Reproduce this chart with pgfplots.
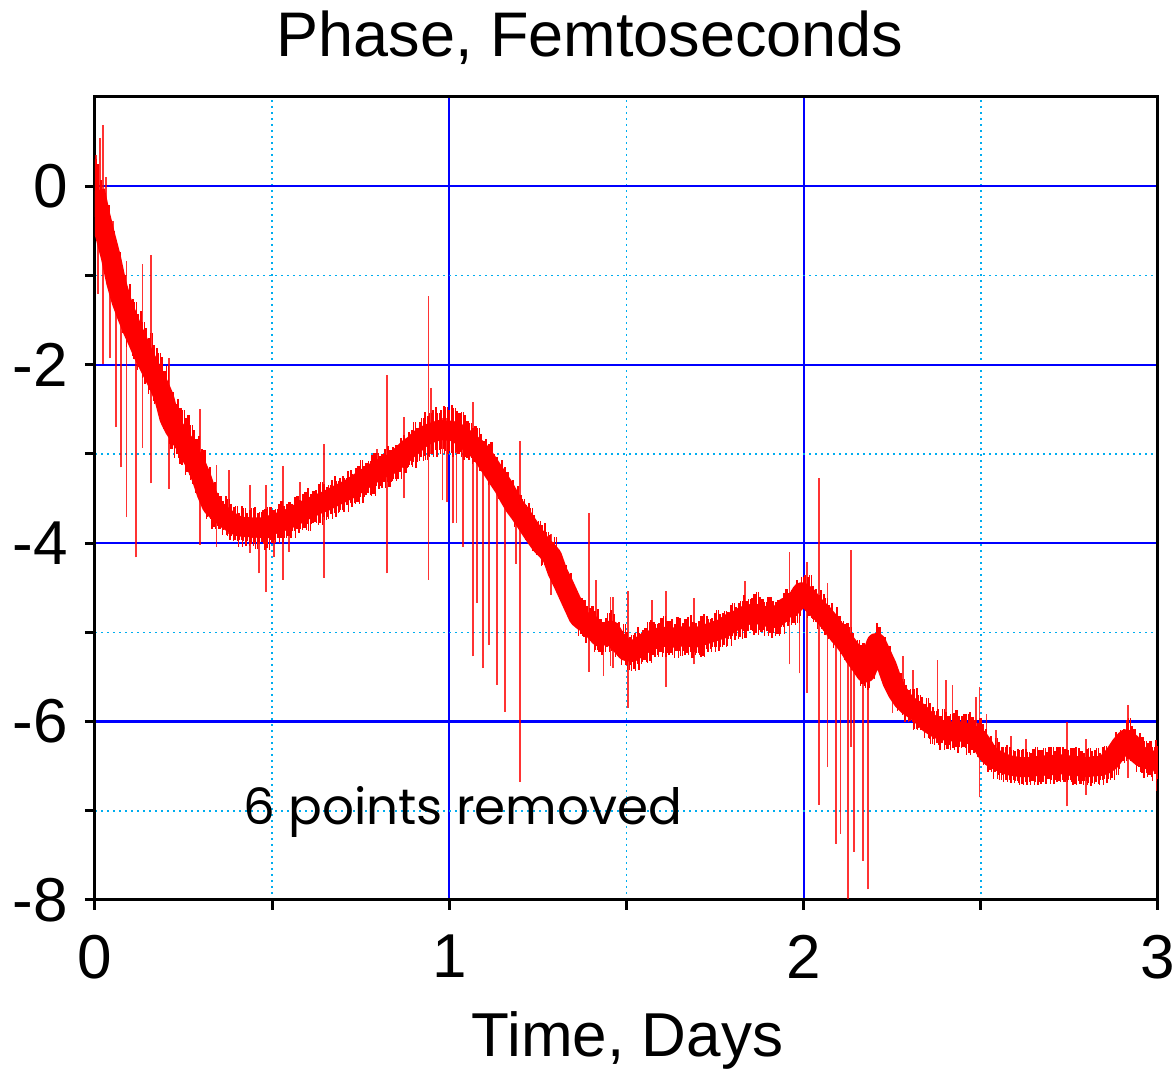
\documentclass[border=0pt]{standalone}
\usepackage{fontspec}
\setmainfont{Liberation Sans}
\newfontfamily\poppins{Poppins}
\usepackage{pgfplots}
\usepackage{pgfplotstable}
\pgfplotsset{compat=1.18}

\pgfplotstableread{
x m ep em
0.000 -0.05 0.35 0.30
0.015 -0.33 0.40 0.28
0.030 -0.57 0.32 0.36
0.045 -0.80 0.38 0.30
0.060 -1.08 0.30 0.34
0.075 -1.29 0.36 0.29
0.090 -1.45 0.28 0.35
0.105 -1.60 0.34 0.30
0.120 -1.73 0.30 0.33
0.135 -1.87 0.35 0.28
0.150 -1.99 0.29 0.34
0.165 -2.11 0.33 0.30
0.180 -2.23 0.36 0.32
0.195 -2.37 0.30 0.35
0.210 -2.60 0.34 0.29
0.225 -2.72 0.28 0.33
0.240 -2.81 0.32 0.30
0.255 -2.90 0.30 0.34
0.270 -3.01 0.33 0.28
0.285 -3.12 0.29 0.32
0.300 -3.26 0.31 0.30
0.315 -3.44 0.27 0.29
0.330 -3.58 0.24 0.26
0.345 -3.64 0.20 0.17
0.360 -3.69 0.16 0.22
0.375 -3.74 0.23 0.18
0.390 -3.78 0.18 0.20
0.405 -3.81 0.15 0.23
0.420 -3.82 0.21 0.16
0.435 -3.82 0.19 0.21
0.450 -3.83 0.24 0.17
0.465 -3.82 0.17 0.19
0.480 -3.84 0.22 0.24
0.495 -3.80 0.20 0.17
0.510 -3.78 0.16 0.22
0.525 -3.76 0.23 0.18
0.540 -3.74 0.18 0.20
0.555 -3.71 0.15 0.23
0.570 -3.68 0.21 0.16
0.585 -3.64 0.19 0.21
0.600 -3.62 0.24 0.17
0.615 -3.59 0.17 0.19
0.630 -3.56 0.22 0.24
0.645 -3.54 0.20 0.17
0.660 -3.51 0.16 0.22
0.675 -3.48 0.23 0.18
0.690 -3.45 0.18 0.20
0.705 -3.42 0.15 0.23
0.720 -3.39 0.21 0.16
0.735 -3.35 0.19 0.21
0.750 -3.31 0.24 0.17
0.765 -3.27 0.17 0.19
0.780 -3.23 0.22 0.24
0.795 -3.19 0.20 0.17
0.810 -3.16 0.16 0.22
0.825 -3.14 0.23 0.18
0.840 -3.10 0.18 0.20
0.855 -3.05 0.15 0.23
0.870 -3.00 0.21 0.16
0.885 -2.94 0.19 0.21
0.900 -2.90 0.26 0.19
0.915 -2.84 0.20 0.24
0.930 -2.80 0.27 0.22
0.945 -2.77 0.23 0.26
0.960 -2.75 0.28 0.21
0.975 -2.73 0.22 0.27
0.990 -2.74 0.26 0.23
1.005 -2.74 0.29 0.25
1.020 -2.76 0.24 0.22
1.035 -2.80 0.27 0.24
1.050 -2.85 0.22 0.20
1.065 -2.90 0.19 0.21
1.080 -2.95 0.24 0.17
1.095 -3.02 0.17 0.19
1.110 -3.11 0.22 0.24
1.125 -3.20 0.20 0.17
1.140 -3.29 0.16 0.22
1.155 -3.38 0.23 0.18
1.170 -3.49 0.18 0.20
1.185 -3.59 0.15 0.23
1.200 -3.67 0.21 0.16
1.215 -3.76 0.19 0.21
1.230 -3.85 0.24 0.17
1.245 -3.94 0.17 0.19
1.260 -4.02 0.22 0.24
1.275 -4.08 0.20 0.17
1.290 -4.15 0.16 0.22
1.305 -4.32 0.23 0.18
1.320 -4.44 0.18 0.20
1.335 -4.57 0.15 0.23
1.350 -4.70 0.21 0.16
1.365 -4.83 0.19 0.21
1.380 -4.88 0.24 0.17
1.395 -4.90 0.17 0.19
1.410 -4.98 0.22 0.24
1.425 -5.05 0.20 0.17
1.440 -5.00 0.16 0.22
1.455 -4.98 0.23 0.18
1.470 -5.08 0.18 0.20
1.485 -5.14 0.15 0.23
1.500 -5.21 0.21 0.16
1.515 -5.22 0.19 0.21
1.530 -5.18 0.24 0.17
1.545 -5.14 0.17 0.19
1.560 -5.10 0.22 0.24
1.575 -5.08 0.20 0.17
1.590 -5.06 0.16 0.22
1.605 -5.05 0.23 0.18
1.620 -5.05 0.18 0.20
1.635 -5.06 0.15 0.23
1.650 -5.05 0.21 0.16
1.665 -5.04 0.19 0.21
1.680 -5.05 0.24 0.17
1.695 -5.06 0.17 0.19
1.710 -5.04 0.22 0.24
1.725 -5.02 0.20 0.17
1.740 -5.00 0.16 0.22
1.755 -4.98 0.23 0.18
1.770 -4.96 0.18 0.20
1.785 -4.92 0.15 0.23
1.800 -4.88 0.21 0.16
1.815 -4.86 0.19 0.21
1.830 -4.82 0.24 0.17
1.845 -4.80 0.17 0.19
1.860 -4.79 0.22 0.24
1.875 -4.80 0.20 0.17
1.890 -4.82 0.16 0.22
1.905 -4.83 0.23 0.18
1.920 -4.84 0.18 0.20
1.935 -4.79 0.15 0.23
1.950 -4.72 0.21 0.16
1.965 -4.71 0.19 0.21
1.980 -4.65 0.24 0.17
1.995 -4.55 0.17 0.19
2.010 -4.60 0.22 0.24
2.025 -4.68 0.20 0.17
2.040 -4.74 0.16 0.22
2.055 -4.80 0.23 0.18
2.070 -4.87 0.18 0.20
2.085 -4.95 0.15 0.23
2.100 -5.03 0.21 0.16
2.115 -5.10 0.19 0.21
2.130 -5.18 0.24 0.17
2.145 -5.28 0.17 0.19
2.160 -5.36 0.22 0.24
2.175 -5.45 0.20 0.17
2.190 -5.30 0.16 0.22
2.205 -5.12 0.23 0.18
2.220 -5.25 0.18 0.20
2.235 -5.38 0.15 0.23
2.250 -5.55 0.21 0.16
2.265 -5.67 0.19 0.21
2.280 -5.76 0.24 0.17
2.295 -5.82 0.17 0.19
2.310 -5.86 0.22 0.24
2.325 -5.90 0.20 0.17
2.340 -5.96 0.16 0.22
2.355 -6.02 0.23 0.18
2.370 -6.06 0.18 0.20
2.385 -6.09 0.15 0.23
2.400 -6.10 0.21 0.16
2.415 -6.11 0.19 0.21
2.430 -6.11 0.24 0.17
2.445 -6.11 0.17 0.19
2.460 -6.13 0.22 0.24
2.475 -6.15 0.20 0.17
2.490 -6.18 0.16 0.22
2.505 -6.26 0.23 0.18
2.520 -6.36 0.18 0.20
2.535 -6.41 0.15 0.23
2.550 -6.44 0.21 0.16
2.565 -6.47 0.19 0.21
2.580 -6.49 0.20 0.17
2.595 -6.50 0.17 0.19
2.610 -6.51 0.19 0.20
2.625 -6.51 0.20 0.17
2.640 -6.51 0.16 0.20
2.655 -6.50 0.21 0.18
2.670 -6.50 0.18 0.20
2.685 -6.49 0.15 0.21
2.700 -6.49 0.21 0.16
2.715 -6.48 0.19 0.20
2.730 -6.48 0.20 0.17
2.745 -6.49 0.17 0.19
2.760 -6.50 0.20 0.21
2.775 -6.50 0.20 0.17
2.790 -6.51 0.16 0.20
2.805 -6.51 0.21 0.18
2.820 -6.50 0.18 0.20
2.835 -6.50 0.15 0.21
2.850 -6.48 0.21 0.16
2.865 -6.44 0.19 0.21
2.880 -6.36 0.24 0.17
2.895 -6.27 0.17 0.19
2.910 -6.20 0.22 0.24
2.925 -6.25 0.20 0.17
2.940 -6.35 0.16 0.22
2.955 -6.40 0.23 0.18
2.970 -6.42 0.18 0.20
2.985 -6.44 0.15 0.23
3.000 -6.48 0.21 0.16
}\fuzz

\pgfplotstableread{
x lo len
0.003 -0.50 0.85
0.008 -1.21 1.36
0.014 -0.30 0.84
0.022 -1.99 2.68
0.030 -0.90 1.00
0.042 -1.93 1.43
0.050 -1.20 0.81
0.059 -2.70 1.80
0.073 -3.15 2.05
0.089 -3.71 2.87
0.116 -4.16 2.66
0.134 -2.93 2.06
0.158 -3.33 2.56
0.208 -3.39 1.47
0.296 -4.02 1.52
0.343 -4.04 0.91
0.378 -3.90 0.72
0.437 -4.11 0.76
0.463 -4.34 0.64
0.482 -4.55 1.20
0.505 -4.16 0.46
0.531 -4.41 1.27
0.548 -4.10 0.50
0.579 -3.80 0.48
0.646 -4.39 1.50
0.795 -3.30 0.36
0.823 -4.34 2.22
0.872 -3.50 0.91
0.941 -4.41 3.18
0.948 -3.00 0.74
0.981 -3.52 0.92
0.993 -3.54 0.94
1.011 -3.78 1.18
1.020 -3.77 1.17
1.038 -4.04 1.34
1.066 -5.27 2.85
1.077 -4.67 1.87
1.094 -5.40 2.50
1.111 -5.14 2.14
1.135 -5.59 2.39
1.156 -5.89 2.59
1.188 -4.23 0.83
1.200 -6.68 3.83
1.287 -4.58 0.68
1.395 -5.44 1.78
1.414 -5.00 0.59
1.435 -5.49 0.59
1.455 -5.38 0.78
1.462 -5.40 0.80
1.505 -5.85 1.31
1.571 -5.10 0.46
1.611 -5.61 1.07
1.690 -5.36 0.74
1.834 -4.90 0.47
1.960 -5.36 1.26
1.988 -5.46 0.96
2.010 -5.68 1.47
2.044 -6.93 3.66
2.067 -6.51 2.06
2.091 -7.37 2.47
2.104 -7.26 2.26
2.125 -7.99 2.89
2.133 -6.28 2.20
2.142 -7.46 2.26
2.168 -7.56 2.26
2.182 -7.88 2.58
2.251 -5.90 0.50
2.281 -5.80 0.53
2.308 -5.90 0.48
2.378 -6.10 0.79
2.402 -6.10 0.57
2.420 -6.10 0.51
2.486 -6.20 0.48
2.496 -6.85 1.24
2.516 -6.40 0.48
2.543 -6.50 0.41
2.585 -6.50 0.34
2.627 -6.50 0.30
2.744 -6.95 0.94
2.797 -6.82 0.62
2.874 -6.40 0.16
2.916 -6.63 0.82
2.996 -6.78 0.38
}\spikes

\begin{document}
\begin{tikzpicture}
\useasboundingbox (-47.5pt,-85pt) rectangle (540pt,450pt);
\begin{axis}[
  at={(0,0)}, anchor=south west, scale only axis,
  width=531.5pt, height=401.5pt,
  xmin=0, xmax=3, ymin=-8, ymax=1,
  xtick={0,1,2,3}, xticklabels={0,1,2,3},
  minor xtick={0.5,1.5,2.5},
  ytick={-8,-6,-4,-2,0}, yticklabels={-8,-6,-4,-2,0},
  minor ytick={-7,-5,-3,-1},
  tick pos=left, tick align=outside,
  major tick length=5pt, minor tick length=5pt,
  every tick/.style={line width=1.5pt},
  axis line style={black, line width=1.5pt},
  grid=both,
  every major grid/.style={color=blue, line width=1.1pt, solid},
  every minor grid/.style={color=cyan, line width=0.8pt, dash pattern=on 1pt off 2pt},
  tick label style={font=\fontsize{31pt}{37pt}\selectfont},
  xticklabel style={yshift=-9pt},
  yticklabel style={xshift=-5pt},
  error bars/error mark=none,
]
\addplot[red, line width=10pt, line join=round, no marks] table[x=x, y=m] {\fuzz};
\addplot[draw=none, mark=none, error bars/.cd, y dir=both, y explicit,
  error bar style={draw=red, solid, line width=0.6pt}]
  table[x=x, y=m, y error plus=ep, y error minus=em] {\fuzz};
\addplot[draw=none, mark=none, error bars/.cd, y dir=both, y explicit,
  error bar style={draw=red, solid, line width=0.6pt}]
  table[x expr=\thisrow{x}+0.0075, y=m, y error plus=em, y error minus=ep] {\fuzz};
\addplot[draw=none, mark=none, error bars/.cd, y dir=both, y explicit,
  error bar style={draw=red, solid, line width=0.5pt}]
  table[x expr=\thisrow{x}+0.0038, y=m, y error plus=ep, y error minus=ep] {\fuzz};
\addplot[draw=none, mark=none, error bars/.cd, y dir=both, y explicit,
  error bar style={draw=red, solid, line width=0.5pt}]
  table[x expr=\thisrow{x}+0.0112, y=m, y error plus=em, y error minus=em] {\fuzz};
\addplot[draw=none, mark=none, error bars/.cd, y dir=plus, y explicit,
  error bar style={draw=red, solid, draw opacity=0.8, line width=0.9pt}]
  table[x=x, y=lo, y error plus=len] {\spikes};
\end{axis}
\node[anchor=base, font=\fontsize{31.5pt}{37pt}\selectfont] at (247.5pt,421.5pt) {Phase, Femtoseconds};
\node[anchor=base, font=\fontsize{31pt}{37pt}\selectfont] at (266.25pt,-78.5pt) {Time, Days};
\node[anchor=base west, inner sep=0pt, font=\poppins\fontsize{25pt}{30pt}\selectfont] at (74pt,37.5pt) {6 points removed};
\end{tikzpicture}
\end{document}
